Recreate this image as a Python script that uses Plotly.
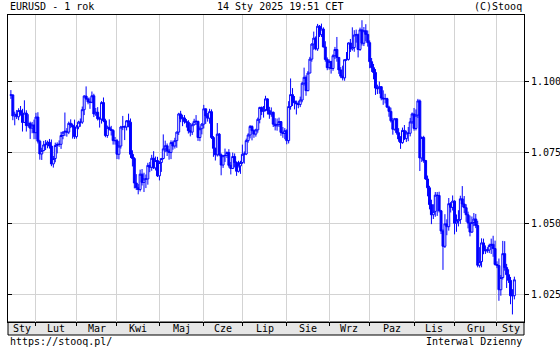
import pandas as pd
import plotly.graph_objects as go

# ---------------- data ----------------
START, END = "2024-01-15", "2025-01-14"   # daily (weekday) bars
month_names = ["Sty", "Lut", "Mar", "Kwi", "Maj", "Cze", "Lip", "Sie", "Wrz", "Paz", "Lis", "Gru", "Sty"]
y_ticks = [1.025, 1.050, 1.075, 1.100]
y_tick_text = ["1.025", "1.050", "1.075", "1.100"]

open_ = [
    1.0950, 1.0951, 1.0877, 1.0883, 1.0874, 1.0896, 1.0885, 1.0854, 1.0887, 1.0843, 1.0851, 1.0834, 1.0845,
    1.0818, 1.0873, 1.0788, 1.0743, 1.0755, 1.0775, 1.0777, 1.0784, 1.0771, 1.0708, 1.0727, 1.0773, 1.0777, 1.0777, 1.0808, 1.0820, 1.0823, 1.0820, 1.0851, 1.0844, 1.0838,
    1.0804, 1.0838, 1.0855, 1.0855, 1.0899, 1.0947, 1.0937, 1.0926, 1.0925, 1.0948, 1.0884, 1.0890, 1.0867, 1.0866, 1.0924, 1.0860, 1.0808, 1.0837, 1.0830, 1.0826, 1.0790,
    1.0790, 1.0742, 1.0771, 1.0838, 1.0839, 1.0838, 1.0860, 1.0855, 1.0742, 1.0727, 1.0641, 1.0624, 1.0618, 1.0672, 1.0643, 1.0655, 1.0655, 1.0703, 1.0696, 1.0728, 1.0694, 1.0720,
    1.0666, 1.0713, 1.0727, 1.0761, 1.0772, 1.0753, 1.0748, 1.0783, 1.0771, 1.0790, 1.0820, 1.0884, 1.0867, 1.0870, 1.0857, 1.0855, 1.0825, 1.0820, 1.0846, 1.0858, 1.0858, 1.0801, 1.0832,
    1.0848, 1.0902, 1.0877, 1.0869, 1.0892, 1.0801, 1.0763, 1.0740, 1.0813, 1.0740, 1.0704, 1.0737, 1.0738, 1.0748, 1.0703, 1.0692, 1.0734, 1.0713, 1.0682, 1.0701,
    1.0713, 1.0742, 1.0743, 1.0790, 1.0810, 1.0840, 1.0825, 1.0813, 1.0828, 1.0865, 1.0907, 1.0893, 1.0899, 1.0937, 1.0896, 1.0883, 1.0890, 1.0848, 1.0842, 1.0847, 1.0857, 1.0819, 1.0815,
    1.0825, 1.0790, 1.0910, 1.0952, 1.0930, 1.0923, 1.0920, 1.0917, 1.0933, 1.0992, 1.1013, 1.0966, 1.1028, 1.1077, 1.1130, 1.1151, 1.1113, 1.1193, 1.1163, 1.1183, 1.1120, 1.1076,
    1.1047, 1.1069, 1.1044, 1.1089, 1.1111, 1.1083, 1.1039, 1.1017, 1.1011, 1.1075, 1.1076, 1.1134, 1.1113, 1.1118, 1.1162, 1.1163, 1.1111, 1.1180, 1.1133, 1.1177, 1.1164,
    1.1135, 1.1068, 1.1047, 1.1030, 1.0975, 1.0973, 1.0980, 1.0940, 1.0937, 1.0938, 1.0908, 1.0893, 1.0860, 1.0830, 1.0867, 1.0818, 1.0796, 1.0783, 1.0826, 1.0797, 1.0817, 1.0816, 1.0856,
    1.0884, 1.0833, 1.0880, 1.0930, 1.0729, 1.0801, 1.0720, 1.0655, 1.0624, 1.0565, 1.0529, 1.0541, 1.0598, 1.0597, 1.0543, 1.0472, 1.0418, 1.0497, 1.0487, 1.0568, 1.0555,
    1.0577, 1.0499, 1.0507, 1.0512, 1.0585, 1.0567, 1.0554, 1.0529, 1.0500, 1.0468, 1.0502, 1.0514, 1.0491, 1.0351, 1.0364, 1.0430, 1.0406, 1.0402, 1.0405, 1.0421, 1.0425, 1.0410,
    1.0354, 1.0350, 1.0265, 1.0308, 1.0392, 1.0343, 1.0318, 1.0298, 1.0244, 1.0244,
]

high = [
    1.0968, 1.0953, 1.0892, 1.0898, 1.0904, 1.0912, 1.0902, 1.0932, 1.0897, 1.0883, 1.0857, 1.0856, 1.0864,
    1.0888, 1.0890, 1.0793, 1.0765, 1.0789, 1.0792, 1.0790, 1.0796, 1.0794, 1.0736, 1.0783, 1.0784, 1.0791, 1.0821, 1.0822, 1.0889, 1.0834, 1.0857, 1.0865, 1.0850, 1.0864,
    1.0845, 1.0860, 1.0868, 1.0910, 1.0950, 1.0981, 1.0942, 1.0942, 1.0963, 1.0955, 1.0905, 1.0908, 1.0874, 1.0929, 1.0942, 1.0867, 1.0843, 1.0865, 1.0842, 1.0830, 1.0803,
    1.0796, 1.0788, 1.0842, 1.0877, 1.0843, 1.0862, 1.0885, 1.0868, 1.0756, 1.0732, 1.0672, 1.0637, 1.0688, 1.0690, 1.0677, 1.0671, 1.0712, 1.0715, 1.0740, 1.0753, 1.0734, 1.0733,
    1.0718, 1.0729, 1.0812, 1.0790, 1.0780, 1.0761, 1.0791, 1.0790, 1.0800, 1.0822, 1.0888, 1.0895, 1.0881, 1.0880, 1.0866, 1.0862, 1.0852, 1.0853, 1.0867, 1.0880, 1.0860, 1.0840, 1.0852,
    1.0916, 1.0903, 1.0887, 1.0902, 1.0900, 1.0806, 1.0765, 1.0852, 1.0817, 1.0745, 1.0740, 1.0762, 1.0752, 1.0760, 1.0715, 1.0748, 1.0745, 1.0717, 1.0719, 1.0719,
    1.0776, 1.0752, 1.0797, 1.0816, 1.0845, 1.0844, 1.0830, 1.0832, 1.0871, 1.0909, 1.0910, 1.0912, 1.0948, 1.0939, 1.0909, 1.0907, 1.0892, 1.0869, 1.0868, 1.0871, 1.0858, 1.0838, 1.0834,
    1.0830, 1.0929, 1.1009, 1.0975, 1.0947, 1.0931, 1.0930, 1.0945, 1.0997, 1.1047, 1.1020, 1.1035, 1.1085, 1.1133, 1.1174, 1.1157, 1.1201, 1.1197, 1.1202, 1.1189, 1.1140, 1.1083,
    1.1076, 1.1070, 1.1094, 1.1120, 1.1155, 1.1084, 1.1049, 1.1054, 1.1076, 1.1102, 1.1136, 1.1148, 1.1189, 1.1179, 1.1181, 1.1167, 1.1188, 1.1214, 1.1190, 1.1200, 1.1178,
    1.1143, 1.1081, 1.1060, 1.1042, 1.0987, 1.0998, 1.0982, 1.0967, 1.0955, 1.0941, 1.0913, 1.0906, 1.0870, 1.0870, 1.0869, 1.0834, 1.0806, 1.0836, 1.0845, 1.0825, 1.0838, 1.0870, 1.0889,
    1.0905, 1.0900, 1.0937, 1.0935, 1.0805, 1.0807, 1.0722, 1.0667, 1.0631, 1.0582, 1.0566, 1.0609, 1.0609, 1.0610, 1.0546, 1.0478, 1.0531, 1.0513, 1.0588, 1.0574, 1.0597,
    1.0580, 1.0530, 1.0545, 1.0596, 1.0630, 1.0595, 1.0566, 1.0540, 1.0526, 1.0523, 1.0535, 1.0532, 1.0508, 1.0415, 1.0446, 1.0445, 1.0421, 1.0415, 1.0427, 1.0445, 1.0455, 1.0438,
    1.0365, 1.0375, 1.0317, 1.0437, 1.0436, 1.0356, 1.0337, 1.0310, 1.0267, 1.0311,
]

low = [
    1.0937, 1.0862, 1.0844, 1.0866, 1.0862, 1.0878, 1.0822, 1.0852, 1.0822, 1.0836, 1.0796, 1.0816, 1.0795,
    1.0795, 1.0780, 1.0723, 1.0722, 1.0752, 1.0757, 1.0763, 1.0762, 1.0700, 1.0695, 1.0714, 1.0745, 1.0768, 1.0761, 1.0795, 1.0806, 1.0804, 1.0813, 1.0834, 1.0797, 1.0796,
    1.0797, 1.0830, 1.0839, 1.0849, 1.0880, 1.0932, 1.0918, 1.0902, 1.0922, 1.0873, 1.0877, 1.0861, 1.0836, 1.0850, 1.0855, 1.0802, 1.0800, 1.0826, 1.0808, 1.0776, 1.0776,
    1.0725, 1.0724, 1.0762, 1.0827, 1.0792, 1.0826, 1.0837, 1.0729, 1.0699, 1.0622, 1.0616, 1.0601, 1.0611, 1.0632, 1.0609, 1.0623, 1.0635, 1.0679, 1.0684, 1.0690, 1.0685, 1.0662,
    1.0650, 1.0680, 1.0724, 1.0750, 1.0736, 1.0723, 1.0725, 1.0758, 1.0762, 1.0765, 1.0810, 1.0855, 1.0841, 1.0850, 1.0836, 1.0815, 1.0805, 1.0810, 1.0843, 1.0845, 1.0789, 1.0788, 1.0812,
    1.0833, 1.0849, 1.0857, 1.0850, 1.0796, 1.0733, 1.0720, 1.0734, 1.0735, 1.0668, 1.0694, 1.0715, 1.0729, 1.0695, 1.0671, 1.0690, 1.0696, 1.0666, 1.0678, 1.0673,
    1.0708, 1.0709, 1.0739, 1.0783, 1.0798, 1.0791, 1.0800, 1.0804, 1.0818, 1.0851, 1.0880, 1.0871, 1.0893, 1.0882, 1.0867, 1.0874, 1.0838, 1.0826, 1.0825, 1.0838, 1.0807, 1.0800, 1.0795,
    1.0777, 1.0780, 1.0899, 1.0912, 1.0900, 1.0882, 1.0904, 1.0908, 1.0925, 1.0984, 1.0948, 1.0964, 1.1027, 1.1068, 1.1110, 1.1108, 1.1106, 1.1155, 1.1155, 1.1118, 1.1068, 1.1038,
    1.1040, 1.1026, 1.1036, 1.1077, 1.1068, 1.1025, 1.1010, 1.1002, 1.1001, 1.1071, 1.1072, 1.1102, 1.1107, 1.1103, 1.1135, 1.1083, 1.1106, 1.1125, 1.1123, 1.1140, 1.1121,
    1.1045, 1.1032, 1.1006, 1.0951, 1.0954, 1.0955, 1.0932, 1.0916, 1.0921, 1.0906, 1.0874, 1.0854, 1.0811, 1.0825, 1.0811, 1.0786, 1.0761, 1.0779, 1.0792, 1.0785, 1.0788, 1.0805, 1.0849,
    1.0825, 1.0826, 1.0870, 1.0683, 1.0715, 1.0712, 1.0652, 1.0594, 1.0548, 1.0496, 1.0514, 1.0522, 1.0525, 1.0537, 1.0461, 1.0335, 1.0412, 1.0457, 1.0473, 1.0537, 1.0544,
    1.0460, 1.0469, 1.0488, 1.0497, 1.0556, 1.0535, 1.0504, 1.0481, 1.0453, 1.0465, 1.0489, 1.0482, 1.0344, 1.0343, 1.0344, 1.0390, 1.0391, 1.0395, 1.0394, 1.0391, 1.0381, 1.0350,
    1.0341, 1.0226, 1.0244, 1.0301, 1.0332, 1.0271, 1.0289, 1.0214, 1.0178, 1.0231,
]

close = [
    1.0951, 1.0877, 1.0883, 1.0874, 1.0896, 1.0885, 1.0854, 1.0887, 1.0843, 1.0851, 1.0834, 1.0845, 1.0818,
    1.0873, 1.0788, 1.0743, 1.0755, 1.0775, 1.0777, 1.0784, 1.0771, 1.0708, 1.0727, 1.0773, 1.0777, 1.0777, 1.0808, 1.0820, 1.0823, 1.0820, 1.0851, 1.0844, 1.0838, 1.0804,
    1.0838, 1.0855, 1.0855, 1.0899, 1.0947, 1.0937, 1.0926, 1.0925, 1.0948, 1.0884, 1.0890, 1.0867, 1.0866, 1.0924, 1.0860, 1.0808, 1.0837, 1.0830, 1.0826, 1.0790, 1.0790,
    1.0742, 1.0771, 1.0838, 1.0839, 1.0838, 1.0860, 1.0855, 1.0742, 1.0727, 1.0641, 1.0624, 1.0618, 1.0672, 1.0643, 1.0655, 1.0655, 1.0703, 1.0696, 1.0728, 1.0694, 1.0720, 1.0666,
    1.0713, 1.0727, 1.0761, 1.0772, 1.0753, 1.0748, 1.0783, 1.0771, 1.0790, 1.0820, 1.0884, 1.0867, 1.0870, 1.0857, 1.0855, 1.0825, 1.0820, 1.0846, 1.0858, 1.0858, 1.0801, 1.0832, 1.0848,
    1.0902, 1.0877, 1.0869, 1.0892, 1.0801, 1.0763, 1.0740, 1.0813, 1.0740, 1.0704, 1.0737, 1.0738, 1.0748, 1.0703, 1.0692, 1.0734, 1.0713, 1.0682, 1.0701, 1.0713,
    1.0742, 1.0743, 1.0790, 1.0810, 1.0840, 1.0825, 1.0813, 1.0828, 1.0865, 1.0907, 1.0893, 1.0899, 1.0937, 1.0896, 1.0883, 1.0890, 1.0848, 1.0842, 1.0847, 1.0857, 1.0819, 1.0815, 1.0825,
    1.0790, 1.0910, 1.0952, 1.0930, 1.0923, 1.0920, 1.0917, 1.0933, 1.0992, 1.1013, 1.0966, 1.1028, 1.1077, 1.1130, 1.1151, 1.1113, 1.1193, 1.1163, 1.1183, 1.1120, 1.1076, 1.1047,
    1.1069, 1.1044, 1.1089, 1.1111, 1.1083, 1.1039, 1.1017, 1.1011, 1.1075, 1.1076, 1.1134, 1.1113, 1.1118, 1.1162, 1.1163, 1.1111, 1.1180, 1.1133, 1.1177, 1.1164, 1.1135,
    1.1068, 1.1047, 1.1030, 1.0975, 1.0973, 1.0980, 1.0940, 1.0937, 1.0938, 1.0908, 1.0893, 1.0860, 1.0830, 1.0867, 1.0818, 1.0796, 1.0783, 1.0826, 1.0797, 1.0817, 1.0816, 1.0856, 1.0884,
    1.0833, 1.0880, 1.0930, 1.0729, 1.0801, 1.0720, 1.0655, 1.0624, 1.0565, 1.0529, 1.0541, 1.0598, 1.0597, 1.0543, 1.0472, 1.0418, 1.0497, 1.0487, 1.0568, 1.0555, 1.0577,
    1.0499, 1.0507, 1.0512, 1.0585, 1.0567, 1.0554, 1.0529, 1.0500, 1.0468, 1.0502, 1.0514, 1.0491, 1.0351, 1.0364, 1.0430, 1.0406, 1.0402, 1.0405, 1.0421, 1.0425, 1.0410, 1.0354,
    1.0350, 1.0265, 1.0308, 1.0392, 1.0343, 1.0318, 1.0298, 1.0244, 1.0244, 1.0300,
]

# ---------------- geometry ----------------
W, H = 560, 350
ML, MR, MT, MB = 8, 36, 15, 28
PLOT_H = H - MT - MB
BAND_PX = 13
FONT = "DejaVu Sans Mono"
BLUE = "#0000ff"
GRID = "#d3d3d3"

dates = pd.bdate_range(START, END)
n = len(dates)
assert n == len(open_) == len(high) == len(low) == len(close)
xi = list(range(n))
month_starts = [i for i in range(1, n) if dates[i].month != dates[i - 1].month]
X0, X1 = -1.5, 266.0
bounds = [X0] + month_starts + [X1]
label_x = [(bounds[k] + bounds[k + 1]) / 2 for k in range(len(bounds) - 1)]

Y0, Y1 = 1.01514, 1.12324

fig = go.Figure()
fig.add_trace(go.Candlestick(
    x=xi, open=open_, high=high, low=low, close=close,
    increasing=dict(line=dict(color=BLUE, width=1), fillcolor="white"),
    decreasing=dict(line=dict(color=BLUE, width=1), fillcolor=BLUE),
    whiskerwidth=0, hoverinfo="skip", showlegend=False,
))
# invisible trace that carries the left-side tick axis
fig.add_trace(go.Scatter(x=[X0], y=[Y0], yaxis="y2", mode="markers",
                         marker=dict(opacity=0), hoverinfo="skip", showlegend=False))

def py(px_from_plot_top):
    return 1 - px_from_plot_top / PLOT_H

annotations = [
    dict(text="EURUSD - 1 rok", x=0, xanchor="left", y=py(-8), yanchor="middle"),
    dict(text="14 Sty 2025 19:51 CET", x=(280 - ML) / (W - ML - MR), xanchor="center", y=py(-8), yanchor="middle"),
    dict(text="(C)Stooq", x=1, xanchor="right", y=py(-8), yanchor="middle"),
    dict(text="https://stooq.pl/", x=0, xanchor="left", y=py(PLOT_H + 19.5), yanchor="middle"),
    dict(text="Interwal Dzienny", x=1, xanchor="right", y=py(PLOT_H + 19.5), yanchor="middle"),
]
for a in annotations:
    a.update(xref="paper", yref="paper", showarrow=False, font=dict(family=FONT, size=10, color="black"))

for name, lx in zip(month_names, label_x):
    annotations.append(dict(text=name, x=lx, xref="x", y=py(PLOT_H + 6.8), yref="paper",
                            yanchor="middle", xanchor="center", showarrow=False,
                            font=dict(family=FONT, size=10, color="black")))

shapes = [dict(type="rect", xref="paper", yref="paper", x0=0, x1=1,
               y0=-BAND_PX / PLOT_H, y1=0, fillcolor="#e6e6e6",
               line=dict(color="black", width=1), layer="below")]

fig.update_layout(
    width=W, height=H, autosize=False,
    margin=dict(l=ML, r=MR, t=MT, b=MB, pad=0, autoexpand=False),
    paper_bgcolor="white", plot_bgcolor="white",
    font=dict(family=FONT, size=10, color="black"),
    boxgap=0, boxgroupgap=0,
    showlegend=False,
    xaxis=dict(range=[X0, X1], tickvals=month_starts, showticklabels=False,
               ticks="outside", ticklen=3, tickcolor="black", tickwidth=1,
               showgrid=True, gridcolor=GRID, gridwidth=1,
               showline=True, linecolor="black", linewidth=1, mirror=True,
               zeroline=False, rangeslider=dict(visible=False), fixedrange=True,
               automargin=False),
    yaxis=dict(range=[Y0, Y1], side="right", tickvals=y_ticks, ticktext=y_tick_text,
               ticks="outside", ticklen=4, tickcolor="black", tickwidth=1,
               showgrid=True, gridcolor=GRID, gridwidth=1,
               showline=True, linecolor="black", linewidth=1, mirror=True,
               zeroline=False, fixedrange=True, automargin=False,
               tickfont=dict(family=FONT, size=10, color="black")),
    yaxis2=dict(range=[Y0, Y1], overlaying="y", side="left", tickvals=y_ticks,
                showticklabels=False, ticks="inside", ticklen=4, tickcolor="black",
                showgrid=False, zeroline=False, showline=False, fixedrange=True,
                automargin=False),
    annotations=annotations,
    shapes=shapes,
)

fig.write_html("out.html")
